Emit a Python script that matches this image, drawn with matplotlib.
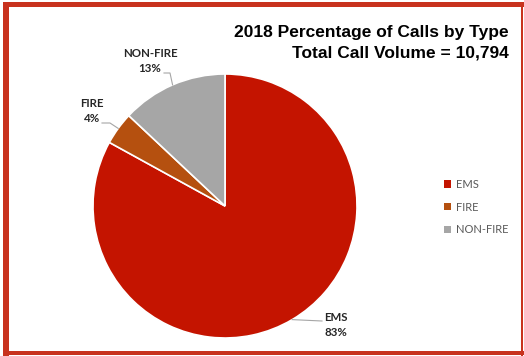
import numpy as np
import matplotlib
matplotlib.use("Agg")
import matplotlib.pyplot as plt
from matplotlib.patches import Rectangle, Patch

categories = ["EMS", "FIRE", "NON-FIRE"]
percentages = [83, 4, 13]
colors = ["#C41400", "#B5500F", "#A6A6A6"]
title_lines = ["2018 Percentage of Calls by Type", "Total Call Volume = 10,794"]

W, H = 524, 356
fig = plt.figure(figsize=(W / 100, H / 100), dpi=100)
fig.patch.set_facecolor("white")

# pie axes: center (225,206) px, radius 132 px
cx, cy, r = 225, 206, 132
ax = fig.add_axes([(cx - r) / W, (H - cy - r) / H, 2 * r / W, 2 * r / H])
wedges, _ = ax.pie(percentages, colors=colors, startangle=90, counterclock=False,
                   radius=1.0, wedgeprops=dict(edgecolor="white", linewidth=1.2))
ax.set_xlim(-1, 1)
ax.set_ylim(-1, 1)
ax.set_aspect("equal")
ax.axis("off")

# labels with leader lines (text offsets in data units, anchors from wedge angles)
label_pos = {
    "EMS": ((336 - cx) / r, (cy - 325) / r),
    "FIRE": ((92 - cx) / r, (cy - 111) / r),
    "NON-FIRE": ((150 - cx) / r, (cy - 61) / r),
}
line_start = {
    "EMS": ((322 - cx) / r, (cy - 321) / r),
    "FIRE": ((102 - cx) / r, (cy - 123) / r),
    "NON-FIRE": ((164 - cx) / r, (cy - 73) / r),
}
elbow = {
    "FIRE": ((110 - cx) / r, (cy - 123) / r),
    "NON-FIRE": ((170 - cx) / r, (cy - 73) / r),
}
for w, cat, pct in zip(wedges, categories, percentages):
    mid = np.deg2rad((w.theta1 + w.theta2) / 2)
    ax_, ay_ = np.cos(mid), np.sin(mid)
    tx, ty = label_pos[cat]
    ax.text(tx, ty, f"{cat}\n{pct}%", ha="center", va="center", fontsize=8.3,
            fontweight="bold", family="Lato", color="#262626", linespacing=1.35,
            clip_on=False)
    sx, sy = line_start[cat]
    if cat in elbow:
        ex, ey = elbow[cat]
        xs, ys = [sx, ex, ax_], [sy, ey, ay_]
    else:
        xs, ys = [ax_, sx], [ay_, sy]
    ax.plot(xs, ys, color="#A6A6A6", lw=0.8, clip_on=False)

# title
for i, (line, yy) in enumerate(zip(title_lines, [32, 53])):
    fig.text(509 / W, 1 - yy / H, line, ha="right", va="center",
             fontsize=12.5, fontweight="bold", family="Liberation Sans", color="black")

# legend
handles = [Patch(facecolor=c, edgecolor="none") for c in colors]
leg = fig.legend(handles, categories, loc="upper left",
                 bbox_to_anchor=(434 / W, 1 - 169 / H), frameon=False,
                 handlelength=0.65, handleheight=0.65, handletextpad=0.45,
                 labelspacing=1.05, prop=dict(family="Lato", size=8))
for t in leg.get_texts():
    t.set_color("#595959")

# border
bc = "#C8321E"
for (x0, y0, x1, y1) in [(3, 2, 9, 356), (3, 2, 524, 7), (521, 2, 523, 356), (3, 351, 524, 355)]:
    fig.patches.append(Rectangle((x0 / W, 1 - y1 / H), (x1 - x0) / W, (y1 - y0) / H,
                                 transform=fig.transFigure, facecolor=bc,
                                 edgecolor="none", zorder=10))

fig.savefig("out.png", dpi=100)
